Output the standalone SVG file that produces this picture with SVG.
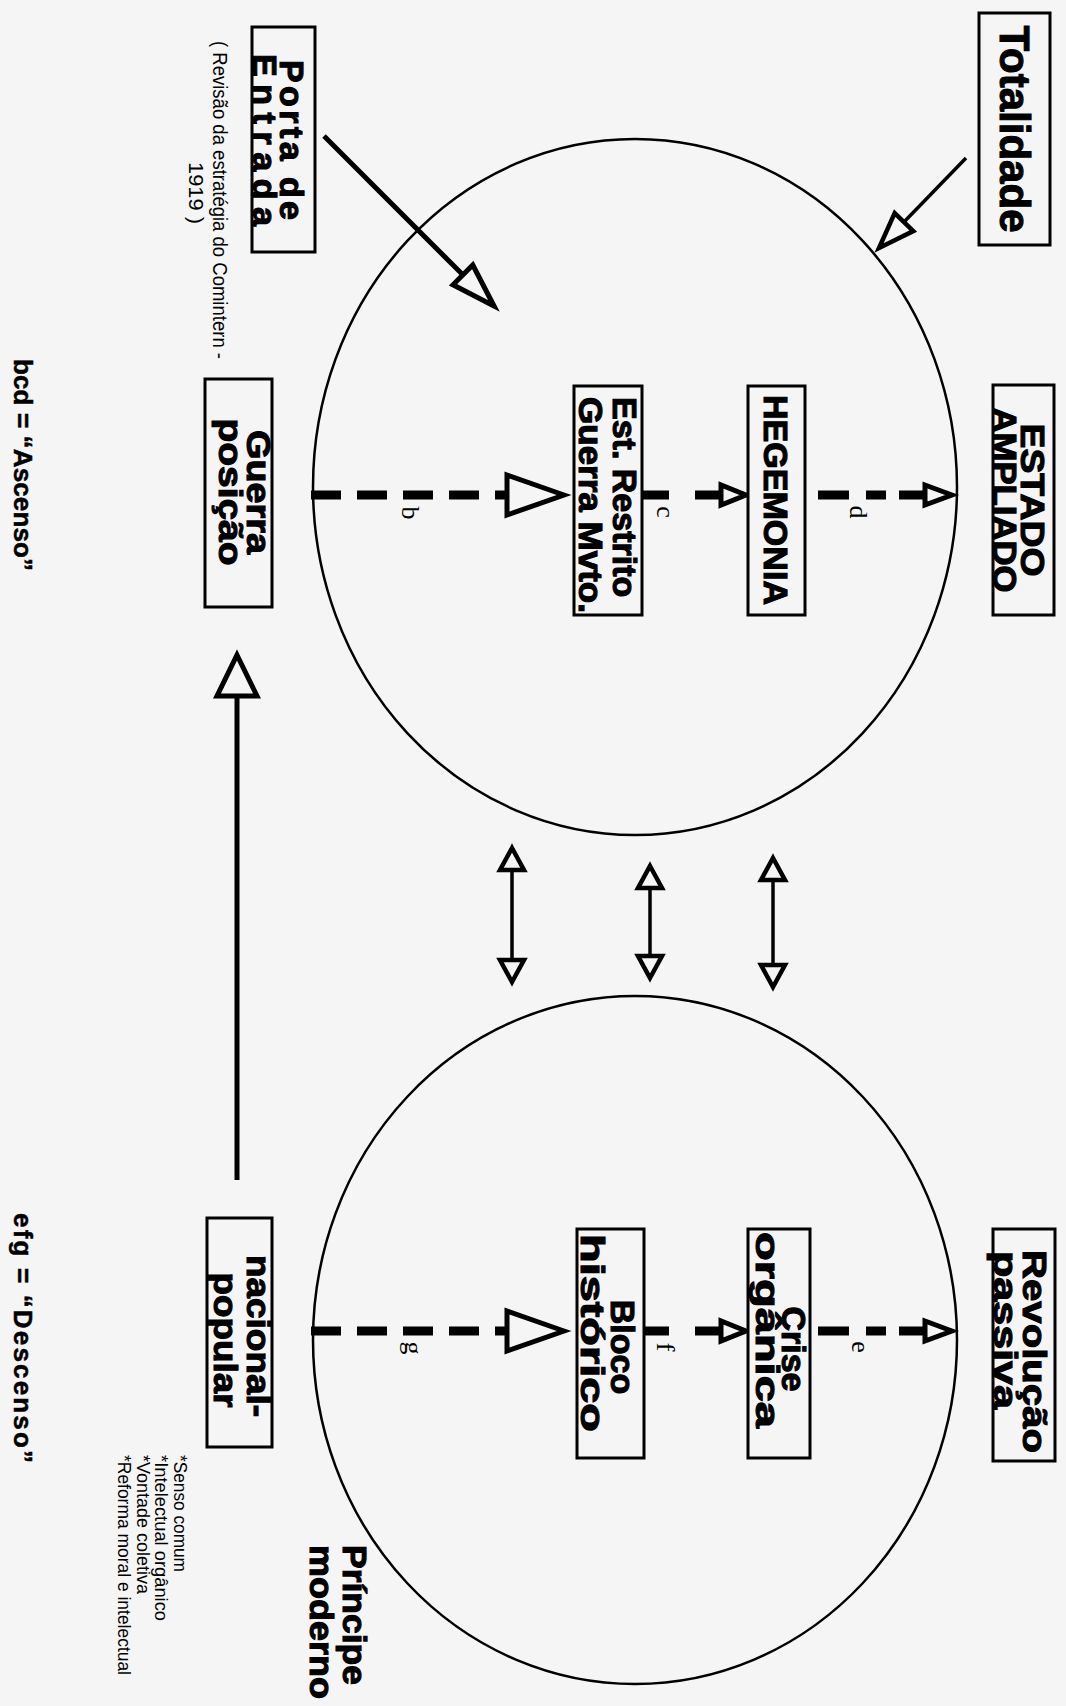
<svg xmlns="http://www.w3.org/2000/svg" width="1066" height="1706" viewBox="0 0 1066 1706">
<style>
.box{fill:#f5f5f5;stroke:#000;stroke-width:3}
.circ{fill:none;stroke:#000;stroke-width:2.5}
.lbl{font-family:"Liberation Sans",Arial,sans-serif;font-weight:bold;font-size:34px;fill:#000;stroke:#000;stroke-width:1.1;text-anchor:middle}
.big{font-size:42px}
.st{text-anchor:start}
.note{font-family:"Liberation Sans",Arial,sans-serif;font-size:19px;fill:#000}
.key{font-family:"Liberation Sans",Arial,sans-serif;font-weight:bold;font-size:26px;fill:#000;stroke:#000;stroke-width:0.5}
.let{font-family:"Liberation Serif","Times New Roman",serif;font-size:26px;fill:#000;text-anchor:middle}
.ln{stroke:#000;fill:none;stroke-width:5}
.thin{stroke-width:3.5}
.dash{stroke:#000;stroke-width:9;fill:none}
.head{fill:#f5f5f5;stroke:#000;stroke-width:5;stroke-linejoin:miter}
.sh{stroke-width:4.5}
</style>
<rect width="1066" height="1706" fill="#f5f5f5"/>
<g transform="translate(1066,0) rotate(90)">
  <g id="circles">
    <ellipse id="circle-upper" class="circ" cx="487" cy="431" rx="348" ry="322"/>
    <ellipse id="circle-lower" class="circ" cx="1340" cy="431" rx="344" ry="322"/>
  </g>
  <g id="connectors">
    <line class="ln thin" x1="158" y1="100" x2="222" y2="162"/>
    <polygon class="head sh" points="248,187 213.1,171.3 231.1,152.7"/>
    <line class="ln" x1="136" y1="742" x2="275" y2="603"/>
    <polygon class="head" points="306,572 284.8,613 265,593.2"/>
    <path class="dash" d="M495,755V559" stroke-dasharray="30 16"/>
    <polygon class="head" points="495,502 475,559 515,559"/>
    <path class="dash" d="M495,423V397M495,371V345"/>
    <polygon class="head" points="495,320 485,345 505,345"/>
    <path class="dash" d="M495,248V217M495,200V180M495,167V141"/>
    <polygon class="head" points="495,114 485,141 505,141"/>
    <path class="dash" d="M1331,755V559" stroke-dasharray="30 16"/>
    <polygon class="head" points="1331,502 1311,559 1351,559"/>
    <path class="dash" d="M1331,423V397M1331,371V345"/>
    <polygon class="head" points="1331,320 1321,345 1341,345"/>
    <path class="dash" d="M1331,248V217M1331,200V180M1331,167V141"/>
    <polygon class="head" points="1331,114 1321,141 1341,141"/>
    <line class="ln thin" x1="870" y1="554" x2="960" y2="554"/>
    <polygon class="head sh" points="848,554 870,542 870,566"/>
    <polygon class="head sh" points="982,554 960,542 960,566"/>
    <line class="ln thin" x1="888" y1="416" x2="956" y2="416"/>
    <polygon class="head sh" points="866,416 888,404 888,428"/>
    <polygon class="head sh" points="978,416 956,404 956,428"/>
    <line class="ln thin" x1="880" y1="293" x2="965" y2="293"/>
    <polygon class="head sh" points="858,293 880,281 880,305"/>
    <polygon class="head sh" points="987,293 965,281 965,305"/>
    <line class="ln" x1="1180" y1="829" x2="696" y2="829"/>
    <polygon class="head" points="655,829 696,809 696,849"/>
    <text class="let" x="513" y="664">b</text>
    <text class="let" x="512" y="409">c</text>
    <text class="let" x="512" y="216">d</text>
    <text class="let" x="1348" y="661">g</text>
    <text class="let" x="1347" y="409">f</text>
    <text class="let" x="1347" y="214">e</text>
  </g>
  <g id="totalidade">
    <rect class="box" x="13" y="16" width="232" height="71"/>
    <text class="lbl big" x="129" y="66" textLength="207" lengthAdjust="spacingAndGlyphs">Totalidade</text>
  </g>
  <g id="porta-de-entrada">
    <rect class="box" x="27" y="751" width="225" height="63"/>
    <text class="lbl" x="140" y="786" textLength="160">Porta de</text>
    <text class="lbl" x="140" y="813" textLength="172">Entrada</text>
  </g>
  <g id="revisao-note">
    <text class="note" x="41" y="853" textLength="318" lengthAdjust="spacingAndGlyphs" style="font-size:21px">( Revisão da estratégia do Comintern -</text>
    <text class="note" x="193" y="877" text-anchor="middle" style="font-size:21px" textLength="62" lengthAdjust="spacingAndGlyphs">1919 )</text>
  </g>
  <g id="estado-ampliado">
    <rect class="box" x="385" y="12" width="230" height="61"/>
    <text class="lbl" x="500" y="45" textLength="153" lengthAdjust="spacingAndGlyphs">ESTADO</text>
    <text class="lbl" x="500" y="73" textLength="185" lengthAdjust="spacingAndGlyphs">AMPLIADO</text>
  </g>
  <g id="hegemonia">
    <rect class="box" x="386" y="261" width="229" height="57"/>
    <text class="lbl" x="500" y="302" textLength="210" lengthAdjust="spacingAndGlyphs">HEGEMONIA</text>
  </g>
  <g id="est-restrito">
    <rect class="box" x="386" y="424" width="229" height="68"/>
    <text class="lbl st" x="397" y="453">Est. Restrito</text>
    <text class="lbl st" x="397" y="487" textLength="216" lengthAdjust="spacingAndGlyphs">Guerra Mvto.</text>
  </g>
  <g id="guerra-posicao">
    <rect class="box" x="379" y="794" width="228" height="67"/>
    <text class="lbl" x="492" y="819" textLength="124" lengthAdjust="spacingAndGlyphs">Guerra</text>
    <text class="lbl" x="492" y="847" textLength="147" lengthAdjust="spacingAndGlyphs">posição</text>
  </g>
  <g id="revolucao-passiva">
    <rect class="box" x="1229" y="11" width="232" height="62"/>
    <text class="lbl st" x="1250" y="43" textLength="203" lengthAdjust="spacingAndGlyphs">Revolução</text>
    <text class="lbl st" x="1251" y="72" textLength="158" lengthAdjust="spacingAndGlyphs">passiva</text>
  </g>
  <g id="crise-organica">
    <rect class="box" x="1229" y="256" width="229" height="62"/>
    <text class="lbl" x="1349" y="284">Crise</text>
    <text class="lbl" x="1330" y="310" textLength="196" lengthAdjust="spacingAndGlyphs">orgânica</text>
  </g>
  <g id="bloco-historico">
    <rect class="box" x="1229" y="422" width="229" height="67"/>
    <text class="lbl" x="1347" y="455">Bloco</text>
    <text class="lbl" x="1333" y="485" textLength="198" lengthAdjust="spacingAndGlyphs">histórico</text>
  </g>
  <g id="nacional-popular">
    <rect class="box" x="1218" y="794" width="229" height="65"/>
    <text class="lbl" x="1336" y="819" textLength="162" lengthAdjust="spacingAndGlyphs">nacional-</text>
    <text class="lbl" x="1340" y="852" textLength="135" lengthAdjust="spacingAndGlyphs">popular</text>
  </g>
  <g id="principe-moderno">
    <text class="lbl st" x="1545" y="723" textLength="140" lengthAdjust="spacingAndGlyphs">Príncipe</text>
    <text class="lbl st" x="1545" y="756" textLength="154" lengthAdjust="spacingAndGlyphs">moderno</text>
  </g>
  <g id="footnotes">
    <text class="note" x="1455" y="892" textLength="117" lengthAdjust="spacingAndGlyphs">*Senso comum</text>
    <text class="note" x="1455" y="911" textLength="166" lengthAdjust="spacingAndGlyphs">*Intelectual orgânico</text>
    <text class="note" x="1455" y="929" textLength="139" lengthAdjust="spacingAndGlyphs">*Vontade coletiva</text>
    <text class="note" x="1455" y="948" textLength="220" lengthAdjust="spacingAndGlyphs">*Reforma moral e intelectual</text>
  </g>
  <g id="legend">
    <text class="key" x="359" y="1052" textLength="212">bcd  = “Ascenso”</text>
    <text class="key" x="1213" y="1052" textLength="250">efg  = “Descenso”</text>
  </g>
</g>
</svg>
